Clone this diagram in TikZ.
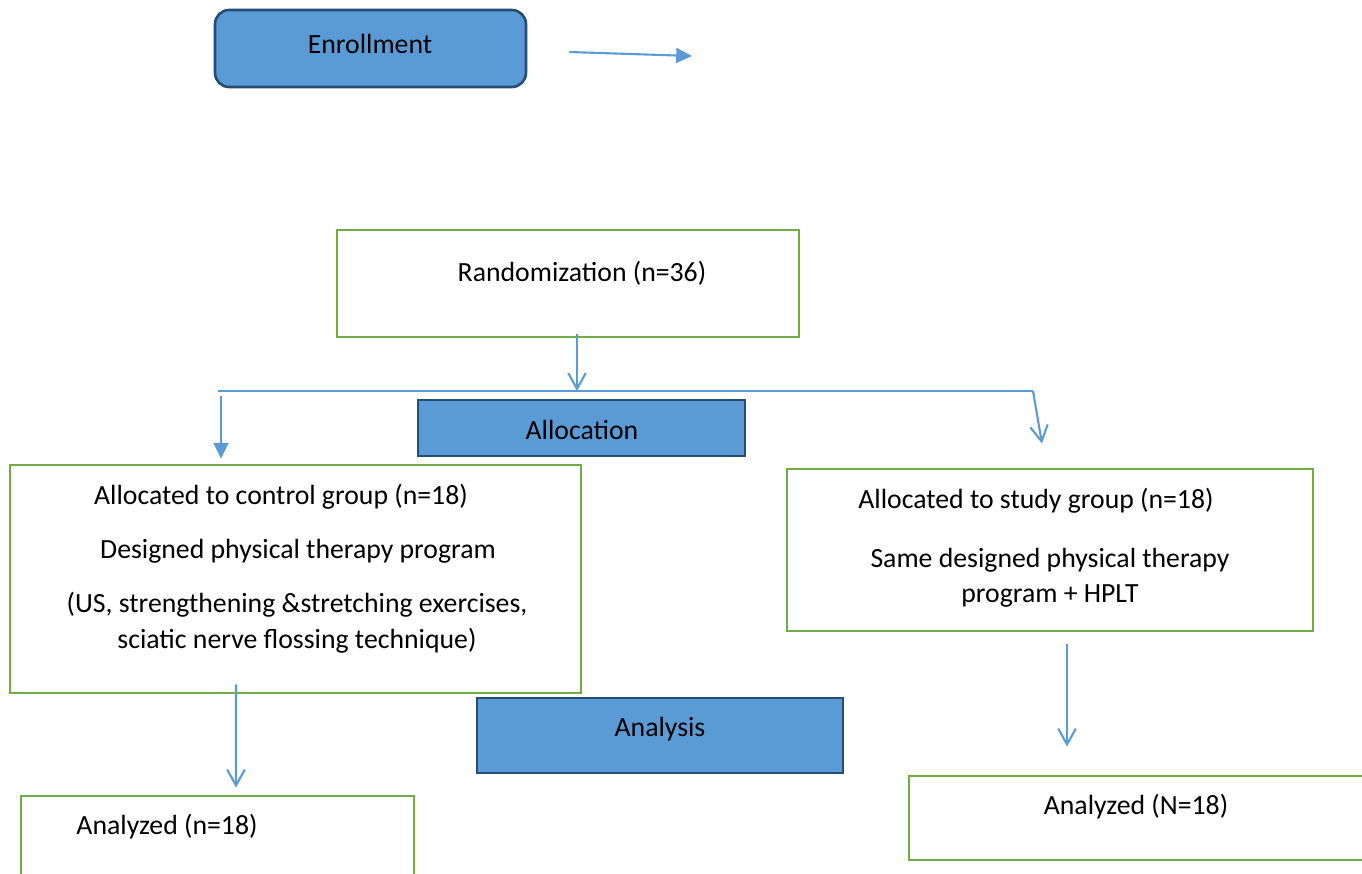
\documentclass[tikz,border=0pt]{standalone}
\usepackage{fontspec}
\setmainfont{Carlito}
\usetikzlibrary{arrows.meta,calc,positioning}
\definecolor{boxblue}{HTML}{5B9BD5}
\definecolor{edgeblue}{HTML}{264D73}
\definecolor{boxgreen}{HTML}{70AD47}
\definecolor{arrowblue}{HTML}{5B9BD5}
\tikzset{
 stagebox/.style={draw=edgeblue,fill=boxblue,line width=1.5pt},
 groupbox/.style={draw=boxgreen,line width=1.6pt},
 txt/.style={font=\fontsize{15.8}{18}\selectfont,inner sep=0pt},
 tri/.style={draw=arrowblue,line width=1.2pt,-{Triangle[length=9pt,width=8.5pt]}},
 barb/.style={draw=arrowblue,line width=1.2pt,-{Straight Barb[length=9pt,width=10pt]}}
}

\begin{document}
\begin{tikzpicture}[x=0.02cm,y=-0.02cm]
 \useasboundingbox(0,0)rectangle(1362,873);
 \clip(0,0)rectangle(1362,873);
 \node[stagebox,rounded corners=8pt,minimum width=6.22cm,minimum height=1.54cm](enroll)at(370.5,48.5){};
 \node[txt](enrolltxt)at(370,44){Enrollment};
 \coordinate(enrollout)at(692,56);
 \draw[tri]([shift={(42,3.5)}]enroll.east)--(enrollout);

 \node[groupbox,minimum width=9.24cm,minimum height=2.14cm](rand)at(568,283.5){};
 \node[txt](randtxt)at(582,273){Randomization (n=36)};

 \coordinate(split)at(577,391);
 \coordinate(splitl)at(218,391);
 \coordinate(splitr)at(1033,391);
 \draw[barb]([shift={(9,-4)}]rand.south)--(split);
 \draw[arrowblue,line width=.9pt](splitl)--(splitr);

 \node[stagebox,minimum width=6.54cm,minimum height=1.12cm](alloc)at(581.5,428){};
 \node[txt](alloctxt)at(582,430){Allocation};

 \node[groupbox,minimum width=11.42cm,minimum height=4.56cm](ctrl)at(295.5,579){};
 \node[txt](ctrl1)at(281,497){Allocated to control group (n=18)};
 \node[txt](ctrl2)at(298,551){Designed physical therapy program};
 \node[txt](ctrl3)at(297,605){(US, strengthening \&stretching exercises,};
 \node[txt](ctrl4)at(297,641){sciatic nerve flossing technique)};

 \node[groupbox,minimum width=10.52cm,minimum height=3.24cm](study)at(1050,550){};
 \node[txt](study1)at(1036,501){Allocated to study group (n=18)};
 \node[txt](study2)at(1050,560){Same designed physical therapy};
 \node[txt](study3)at(1050,596){program + HPLT};

 \draw[tri]([shift={(3,5)}]splitl)--([shift={(-74.5,-5)}]ctrl.north);
 \draw[barb](splitr)--([shift={(-8,-24)}]study.north);

 \node[stagebox,minimum width=7.32cm,minimum height=1.5cm](analysis)at(660,735.5){};
 \node[txt](analysistxt)at(660,729){Analysis};

 \node[groupbox,minimum width=7.86cm,minimum height=2cm](anl)at(217.5,846){};
 \node[txt](anltxt)at(167,827){Analyzed (n=18)};
 \node[groupbox,minimum width=9.42cm,minimum height=1.68cm](anr)at(1144.5,818){};
 \node[txt](anrtxt)at(1136,807){Analyzed (N=18)};

 \draw[barb]([shift={(-59.5,-10)}]ctrl.south)--([shift={(18.5,-7)}]anl.north);
 \draw[barb]([shift={(17,12)}]study.south)--([shift={(-77.5,-28)}]anr.north);
\end{tikzpicture}
\end{document}
